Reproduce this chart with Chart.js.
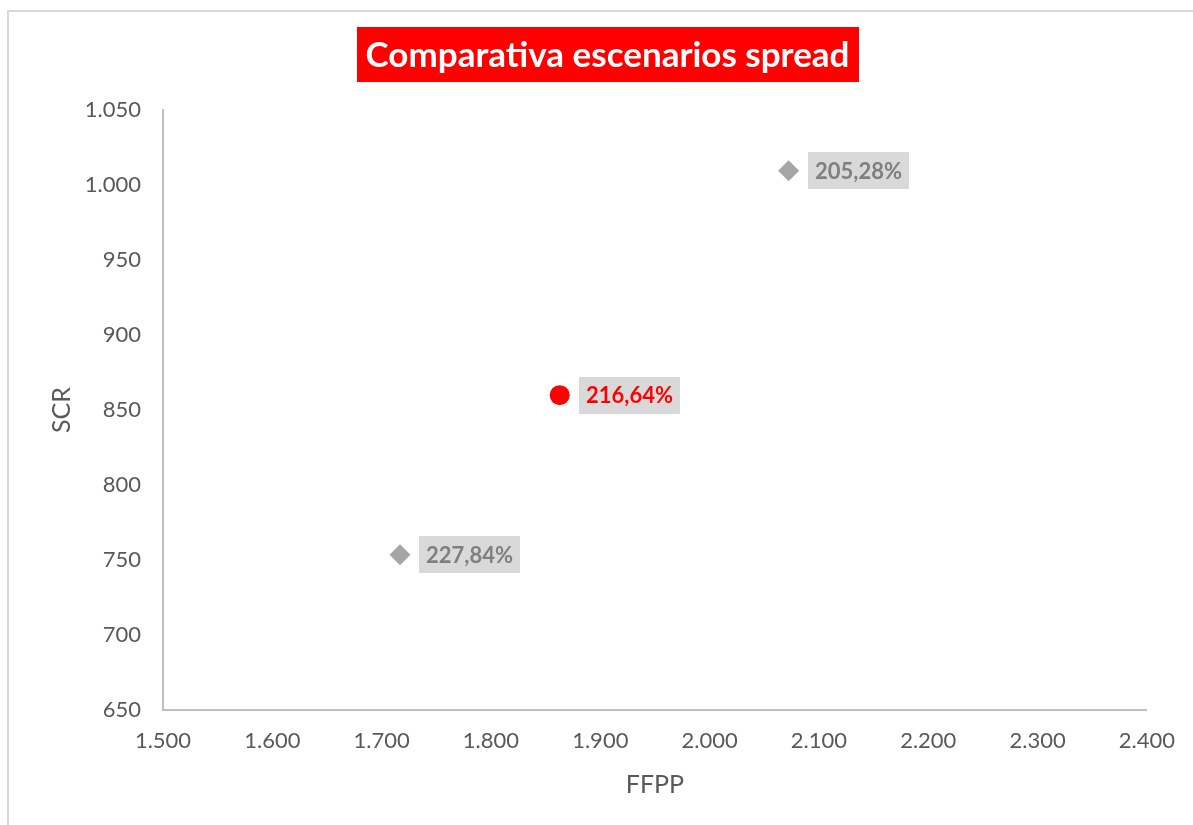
<!DOCTYPE html>
<html>
<head>
<meta charset="utf-8">
<script src="https://cdn.jsdelivr.net/npm/chart.js@4/dist/chart.umd.min.js"></script>
<style>
  html, body { margin: 0; padding: 0; background: #fff; overflow: hidden; }
  #wrap { position: relative; width: 1193px; height: 825px; overflow: hidden; }
  #frame {
    position: absolute; left: 7px; top: 10px; width: 1300px; height: 900px;
    border-left: 2px solid #d9d9d9; border-top: 2px solid #d9d9d9; box-sizing: border-box;
  }
  canvas { position: absolute; left: 0; top: 0; }
</style>
</head>
<body>
<div id="wrap">
  <div id="frame"></div>
  <canvas id="c" width="1193" height="825"></canvas>
</div>
<script>
// Texts
const chartTitle = 'Comparativa escenarios spread';
const xAxisTitle = 'FFPP';
const yAxisTitle = 'SCR';

// Stress scenarios (grey diamonds)
const ffppEscenarios = [2072.3, 1716.8];
const scrEscenarios = [1009.5, 753.5];

// Central scenario (red dot)
const ffppCentral = [1862.9];
const scrCentral = [859.9];

// Axis ticks
const xTickValues = [1500, 1600, 1700, 1800, 1900, 2000, 2100, 2200, 2300, 2400];
const yTickValues = [650, 700, 750, 800, 850, 900, 950, 1000, 1050];

// Thousands separated with a dot, e.g. 1.500
const fmtThousands = v => Math.round(v).toString().replace(/\B(?=(\d{3})+(?!\d))/g, '.');
// Solvency ratio FFPP / SCR, e.g. 216,64%
const ratioLabel = (ffpp, scr) => (ffpp / scr * 100).toFixed(2).replace('.', ',') + '%';

const toPoints = (xs, ys) => xs.map((x, i) => ({ x: x, y: ys[i] }));

// Red title box with white bold text
const titleBox = {
  id: 'titleBox',
  afterDraw(chart, args, o) {
    const ctx = chart.ctx;
    ctx.save();
    ctx.font = 'bold ' + o.size + 'px ' + o.family;
    const w = ctx.measureText(o.text).width;
    ctx.fillStyle = o.background;
    ctx.fillRect(Math.round(o.cx - w / 2 - o.padX), o.top, Math.round(w + 2 * o.padX), o.height);
    ctx.fillStyle = o.color;
    ctx.textAlign = 'center';
    ctx.textBaseline = 'middle';
    ctx.fillText(o.text, o.cx, o.top + o.height / 2 + 1);
    ctx.restore();
  }
};

// Ratio label in a grey box to the right of each point
const valueLabels = {
  id: 'valueLabels',
  afterDatasetsDraw(chart, args, o) {
    const ctx = chart.ctx;
    chart.data.datasets.forEach((ds, i) => {
      const meta = chart.getDatasetMeta(i);
      meta.data.forEach((pt, j) => {
        const v = ds.data[j];
        const text = ratioLabel(v.x, v.y);
        ctx.save();
        ctx.font = 'bold ' + o.size + 'px ' + o.family;
        const w = ctx.measureText(text).width;
        const bx = Math.round(pt.x + o.offset);
        const bw = Math.round(w + 2 * o.padX);
        const by = Math.round(pt.y - o.height / 2);
        ctx.fillStyle = o.background;
        ctx.fillRect(bx, by, bw, o.height);
        ctx.fillStyle = ds.labelColor;
        ctx.textAlign = 'left';
        ctx.textBaseline = 'middle';
        ctx.fillText(text, bx + o.padX, pt.y + 1);
        ctx.restore();
      });
    });
  }
};

const axisColor = '#595959';
const tickFont = { family: 'Lato', size: 22 };
const axisTitleFont = { family: 'Lato', size: 25 };

new Chart(document.getElementById('c'), {
  type: 'scatter',
  data: {
    datasets: [
      {
        label: 'Escenarios',
        data: toPoints(ffppEscenarios, scrEscenarios),
        pointStyle: 'rectRot',
        pointRadius: 10.5,
        backgroundColor: '#a5a5a5',
        borderColor: '#a5a5a5',
        borderWidth: 0,
        labelColor: '#7f7f7f'
      },
      {
        label: 'Central',
        data: toPoints(ffppCentral, scrCentral),
        pointStyle: 'circle',
        pointRadius: 10,
        backgroundColor: '#ff0000',
        borderColor: '#ff0000',
        borderWidth: 0,
        labelColor: '#ff0000'
      }
    ]
  },
  options: {
    responsive: false,
    animation: false,
    devicePixelRatio: 1,
    layout: { padding: { top: 110, right: 43, bottom: 0, left: 0 } },
    plugins: {
      legend: { display: false },
      tooltip: { enabled: false },
      title: { display: false },
      titleBox: {
        text: chartTitle, cx: 607.5, top: 27, height: 55, padX: 9,
        size: 35, family: 'Lato', background: '#ff0000', color: '#ffffff'
      },
      valueLabels: {
        size: 22, family: 'Lato', offset: 19, padX: 7, height: 37, background: '#d9d9d9'
      }
    },
    scales: {
      x: {
        type: 'linear',
        min: xTickValues[0],
        max: xTickValues[xTickValues.length - 1],
        afterBuildTicks: s => { s.ticks = xTickValues.map(v => ({ value: v })); },
        afterFit: s => { s.height = 115; },
        grid: { display: false, drawTicks: false },
        border: { display: true, color: '#bfbfbf', width: 2 },
        ticks: {
          autoSkip: false, maxRotation: 0, padding: 18, color: axisColor, font: tickFont,
          callback: v => fmtThousands(v)
        },
        title: {
          display: true, text: xAxisTitle, color: axisColor, font: axisTitleFont,
          padding: { top: 0, bottom: 25 }
        }
      },
      y: {
        type: 'linear',
        min: yTickValues[0],
        max: yTickValues[yTickValues.length - 1],
        afterBuildTicks: s => { s.ticks = yTickValues.map(v => ({ value: v })); },
        afterFit: s => { s.width = 163; },
        grid: { display: false, drawTicks: false },
        border: { display: true, color: '#bfbfbf', width: 2 },
        ticks: {
          autoSkip: false, padding: 22, color: axisColor, font: tickFont,
          callback: v => fmtThousands(v)
        },
        title: {
          display: true, text: yAxisTitle, color: axisColor, font: axisTitleFont,
          padding: { top: 47, bottom: 0 }
        }
      }
    }
  },
  plugins: [titleBox, valueLabels]
});
</script>
</body>
</html>
